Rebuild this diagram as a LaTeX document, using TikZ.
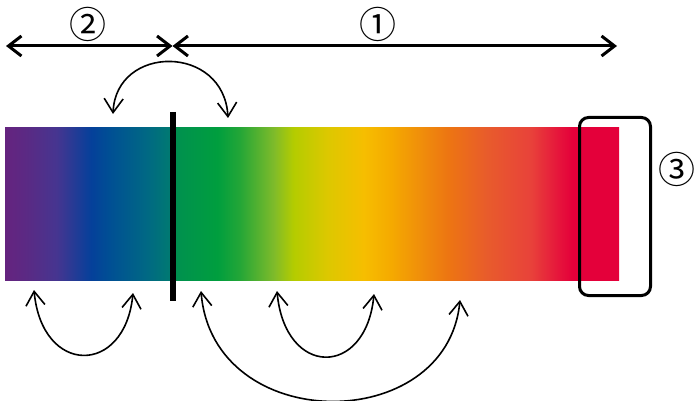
\documentclass[tikz,border=0pt]{standalone}
\usepackage{fontspec}
\newfontfamily\cjkfont{Noto Sans CJK JP}
\usetikzlibrary{arrows.meta}
\definecolor{sp1}{HTML}{65237F}
\definecolor{sp2}{HTML}{5A2A84}
\definecolor{sp3}{HTML}{463590}
\definecolor{sp4}{HTML}{05409A}
\definecolor{sp5}{HTML}{004F94}
\definecolor{sp6}{HTML}{006884}
\definecolor{sp7}{HTML}{007B70}
\definecolor{sp8}{HTML}{009050}
\definecolor{sp9}{HTML}{009E3E}
\definecolor{sp10}{HTML}{23A637}
\definecolor{sp11}{HTML}{7FBB2A}
\definecolor{sp12}{HTML}{B4CC00}
\definecolor{sp13}{HTML}{DCC800}
\definecolor{sp14}{HTML}{F6BE00}
\definecolor{sp15}{HTML}{F5AA00}
\definecolor{sp16}{HTML}{EF8A0C}
\definecolor{sp17}{HTML}{ED7512}
\definecolor{sp18}{HTML}{E85B2C}
\definecolor{sp19}{HTML}{E8423A}
\definecolor{sp20}{HTML}{E6163B}
\definecolor{sp21}{HTML}{E4003A}
% x in [5,619] mapped to [25bp,75bp]
\pgfdeclarehorizontalshading{spectrum}{100bp}{%
color(0bp)=(sp1); color(25bp)=(sp1);
color(26.8bp)=(sp2);
color(29.2bp)=(sp3);
color(32.0bp)=(sp4);
color(33.5bp)=(sp5);
color(36.5bp)=(sp6);
color(38.6bp)=(sp7);
color(38.7bp)=(sp8);
color(42.3bp)=(sp9);
color(44.1bp)=(sp10);
color(46.9bp)=(sp11);
color(48.5bp)=(sp12);
color(51.2bp)=(sp13);
color(54.2bp)=(sp14);
color(56.4bp)=(sp15);
color(59.2bp)=(sp16);
color(61.1bp)=(sp17);
color(64.3bp)=(sp18);
color(67.8bp)=(sp19);
color(70.0bp)=(sp20);
color(71.2bp)=(sp21);
color(75bp)=(sp21); color(100bp)=(sp21)}
\tikzset{
  numlabel/.style={font=\cjkfont\fontsize{37pt}{37pt}\selectfont, inner sep=0pt},
  bigarrow/.style={line width=3pt, {Straight Barb[length=13pt,width=20pt,line width=3pt]}-{Straight Barb[length=13pt,width=20pt,line width=3pt]}},
  arcarrow/.style={line width=1.6pt, {Straight Barb[length=14pt,width=19pt,line width=1.6pt]}-{Straight Barb[length=14pt,width=19pt,line width=1.6pt]}},
}
\begin{document}
\begin{tikzpicture}[x=1pt,y=-1pt]
\useasboundingbox (0,0) rectangle (694,401);
% spectrum bar
\shade[shading=spectrum] (5,128) rectangle (619,280.5);
% separator line
\coordinate (sepT) at (172.5,112);
\coordinate (sepB) at (172.5,301);
\draw[line width=6pt] (sepT) -- (sepB);
% box around red end
\node[draw, line width=3pt, rounded corners=9pt, minimum width=71pt, minimum height=178pt, inner sep=0pt] (redbox) at (615,206.5) {};
% top arrows
\coordinate (aL) at (6,46);
\coordinate (aM) at (172.5,46);
\coordinate (aR) at (617,46);
\draw[bigarrow] (aL) -- (aM);
\draw[bigarrow] (aM) -- (aR);
% labels
\node[numlabel] (n2) at (87.5,24.5) {②};
\node[numlabel] (n1) at (377.5,24.5) {①};
\node[numlabel] (n3) at (677,169) {③};
% curved arrows
\coordinate (t1) at (113,114);
\coordinate (t2) at (228,118);
\draw[arcarrow] (t1) .. controls (116,44) and (224,44) .. (t2);
\coordinate (b1) at (34,290);
\coordinate (b2) at (133,293);
\draw[arcarrow] (b1) .. controls (42,376) and (125,376) .. (b2);
\coordinate (m1) at (277,291);
\coordinate (m2) at (374,294);
\draw[arcarrow] (m1) .. controls (285,378) and (366,378) .. (m2);
\coordinate (g1) at (201,291);
\coordinate (g2) at (460,300);
\draw[arcarrow] (g1) .. controls (213,436) and (447,436) .. (g2);
\end{tikzpicture}
\end{document}
